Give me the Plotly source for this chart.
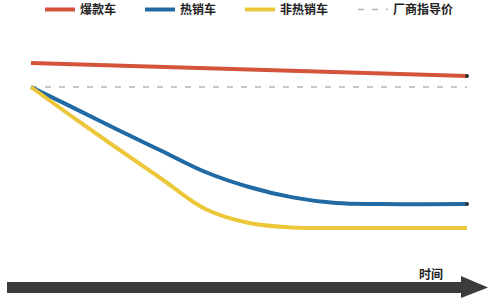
import plotly.graph_objects as go

# Time axis (relative units) and price index (factory guide price = 100)
t_hot_model = [0, 100]
v_hot_model = [112, 105.5]

t_guide = [0, 100]
v_guide = [100, 100]

t_best = [0, 10, 20, 30, 40, 50, 60, 70, 80, 100]
v_best = [100, 89.3, 78.5, 68, 57.5, 50, 44.8, 42, 41.5, 41.5]

t_slow = [0, 10, 20, 30, 40, 50, 60, 70, 80, 100]
v_slow = [100, 84.3, 69, 54, 39, 32, 29.8, 29.5, 29.5, 29.5]

names = ["爆款车", "热销车", "非热销车", "厂商指导价"]
axis_label = "时间"

W, H = 500, 300
RED = "#d5533a"
BLUE = "#1f6aa5"
YELLOW = "#ecc73a"
GREY = "#b5b5b5"
FONT = "Noto Sans CJK SC"

fig = go.Figure()
# guide price first so it sits beneath the coloured curves
fig.add_trace(go.Scatter(x=t_guide, y=v_guide, mode="lines", name=f"<b>{names[3]}</b>",
                         legendrank=4,
                         line=dict(color=GREY, width=1.5, dash="6px,8px")))
fig.add_trace(go.Scatter(x=t_hot_model, y=v_hot_model, mode="lines", name=f"<b>{names[0]}</b>",
                         legendrank=1, legendwidth=55,
                         line=dict(color=RED, width=4)))
fig.add_trace(go.Scatter(x=t_best, y=v_best, mode="lines", name=f"<b>{names[1]}</b>",
                         legendrank=2, legendwidth=55,
                         line=dict(color=BLUE, width=4, shape="spline", smoothing=1)))
fig.add_trace(go.Scatter(x=t_slow, y=v_slow, mode="lines", name=f"<b>{names[2]}</b>",
                         legendrank=3, legendwidth=68,
                         line=dict(color=YELLOW, width=4, shape="spline", smoothing=1)))
# small end caps on the red and blue curves
fig.add_trace(go.Scatter(x=[t_hot_model[-1], t_best[-1]], y=[v_hot_model[-1], v_best[-1]],
                         mode="markers", showlegend=False, hoverinfo="skip",
                         marker=dict(color="#333", size=4)))

def px(x):
    return x / W

def py(y):
    return 1 - y / H

# time arrow along the bottom
arrow = [(7, 282), (461, 282), (461, 276), (488, 287.5), (461, 298), (461, 293), (7, 293)]
path = "M " + " L ".join(f"{px(a):.4f},{py(b):.4f}" for a, b in arrow) + " Z"
fig.add_shape(type="path", path=path, xref="paper", yref="paper",
              fillcolor="#3b3b3b", line=dict(width=0))

fig.add_annotation(text=f"<b>{axis_label}</b>", x=px(417), y=py(273), xref="paper", yref="paper",
                   xanchor="left", yanchor="middle", showarrow=False,
                   font=dict(size=12, color="#222", family=FONT))

fig.update_layout(
    width=W, height=H,
    margin=dict(l=0, r=0, t=0, b=0, autoexpand=False),
    paper_bgcolor="white", plot_bgcolor="white",
    xaxis=dict(range=[-7.11, 107.57], visible=False),
    yaxis=dict(range=[-6.5, 143.5], visible=False),
    showlegend=True,
    legend=dict(orientation="h", x=px(40), y=py(-5), xanchor="left", yanchor="top",
                traceorder="normal",
                font=dict(size=12, color="#222", family=FONT),
                bgcolor="rgba(0,0,0,0)"),
)
fig.write_html("out.html")
